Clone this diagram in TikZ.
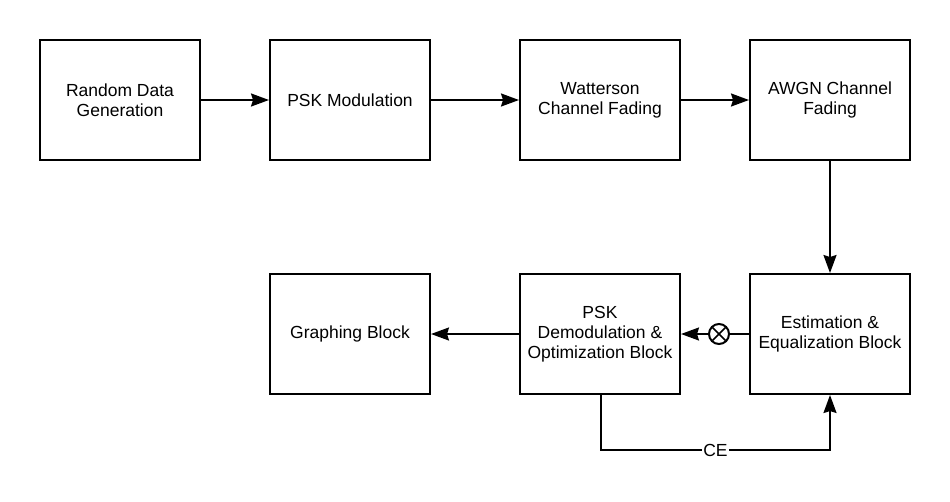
\documentclass[tikz,border=0pt]{standalone}
\usepackage{fontspec}
\setmainfont{Liberation Sans}
\usetikzlibrary{arrows.meta,calc}
\begin{document}
\begin{tikzpicture}[x=1pt,y=-1pt,
  blk/.style={draw,line width=2pt,minimum width=160pt,minimum height=120pt,align=center,inner sep=0pt,font=\fontsize{17.5}{20}\selectfont},
  conn/.style={line width=2pt,-{Stealth[length=18pt,width=13pt,inset=2pt]}},
  plain/.style={line width=2pt}]
\fill[white] (0,0) rectangle (950,501);
\useasboundingbox (0,0) rectangle (950,501);
\node[blk] (rdg) at (120,100) {Random Data\\Generation};
\node[blk] (psk) at (350,100) {PSK Modulation};
\node[blk] (wat) at (600,100) {Watterson\\Channel Fading};
\node[blk] (awgn) at (830,100) {AWGN Channel\\Fading};
\node[blk] (grp) at (350,334) {Graphing Block};
\node[blk] (dem) at (600,334) {PSK\\Demodulation \&\\Optimization Block};
\node[blk] (est) at (830,334) {Estimation \&\\Equalization Block};
\node[draw,circle,line width=2pt,minimum size=20pt,inner sep=0pt] (mix) at (719,334) {};
\draw[line width=1.6pt] ($(mix.center)+(-6.5,-6.5)$) -- ($(mix.center)+(6.5,6.5)$);
\draw[line width=1.6pt] ($(mix.center)+(-6.5,6.5)$) -- ($(mix.center)+(6.5,-6.5)$);
\draw[conn] (rdg) -- (psk);
\draw[conn] (psk) -- (wat);
\draw[conn] (wat) -- (awgn);
\draw[conn] (awgn) -- (est);
\draw[plain] (est) -- (mix);
\draw[conn] (mix) -- (dem);
\draw[conn] (dem) -- (grp);
\coordinate (c1) at (601,450);
\coordinate (c2) at (830,450);
\draw[conn] (dem.south -| c1) -- (c1) -- node[fill=white,inner sep=1pt,font=\fontsize{17.5}{20}\selectfont]{CE} (c2) -- (est.south);
\end{tikzpicture}
\end{document}
